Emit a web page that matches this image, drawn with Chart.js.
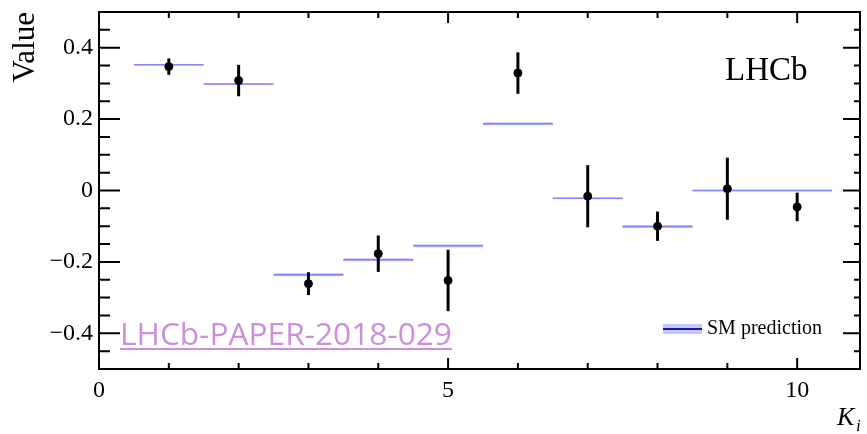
<!DOCTYPE html>
<html>
<head>
<meta charset="utf-8">
<script src="https://cdn.jsdelivr.net/npm/chart.js@4.4.1/dist/chart.umd.min.js"></script>
<style>
  html, body { margin: 0; padding: 0; background: #fff; }
  #wrap { position: relative; width: 867px; height: 434px; }
  #paper {
    position: absolute; left: 120px; top: 317px;
    font-family: "Open Sans", sans-serif; font-size: 31.7px; line-height: 32px;
    color: #cc8fdc; text-decoration: underline; text-decoration-thickness: 2px;
    text-underline-offset: 3px; white-space: nowrap;
  }
</style>
</head>
<body>
<div id="wrap">
  <canvas id="c" width="867" height="434"></canvas>
  <a id="paper">LHCb-PAPER-2018-029</a>
</div>
<script>
// Bin index K_i
const bins = [1, 2, 3, 4, 5, 6, 7, 8, 9, 10];
// Measured values with symmetric uncertainties
const measured    = [0.347, 0.308, -0.261, -0.177, -0.252, 0.329, -0.016, -0.100, 0.005, -0.046];
const measuredErr = [0.023, 0.044, 0.032, 0.051, 0.086, 0.058, 0.087, 0.041, 0.087, 0.040];
// Standard Model prediction per bin and its half-width
const smPrediction = [0.352, 0.298, -0.236, -0.194, -0.155, 0.187, -0.022, -0.101, 0.000, 0.000];
const smErr        = [0.002, 0.002, 0.004, 0.004, 0.004, 0.004, 0.002, 0.004, 0.002, 0.002];
// Axis ranges and labelled ticks
const xRange = [0, 10.9];
const yRange = [-0.5, 0.5];
const xLabelled = [0, 5, 10];
const yLabelled = [-0.4, -0.2, 0, 0.2, 0.4];

const SERIF = '"Liberation Serif", "DejaVu Serif", serif';
const SM_BAND = 'rgba(150,150,255,0.55)';
const SM_LINE = 'rgba(110,110,255,0.75)';

// SM prediction drawn as horizontal segments spanning each bin (null breaks between bins)
const smSegments = [];
bins.forEach((k, i) => {
  smSegments.push({ x: k - 0.5, y: smPrediction[i] });
  smSegments.push({ x: k + 0.5, y: smPrediction[i] });
  smSegments.push({ x: k + 0.5, y: null });
});

const near = (a, b) => Math.abs(a - b) < 1e-6;

// Frame, inward ticks, SM bands, error bars and text annotations
const decorations = {
  id: 'decorations',
  beforeDatasetsDraw(chart) {
    const { ctx, scales: { x, y } } = chart;
    ctx.save();
    ctx.fillStyle = SM_BAND;
    bins.forEach((k, i) => {
      const x0 = x.getPixelForValue(k - 0.5), x1 = x.getPixelForValue(k + 0.5);
      const y0 = y.getPixelForValue(smPrediction[i] + smErr[i]);
      const y1 = y.getPixelForValue(smPrediction[i] - smErr[i]);
      ctx.fillRect(x0, y0, x1 - x0, Math.max(1.5, y1 - y0));
    });
    ctx.restore();
  },
  afterDatasetsDraw(chart) {
    const { ctx, chartArea: a, scales: { x, y } } = chart;
    ctx.save();
    // error bars
    ctx.strokeStyle = '#000';
    ctx.lineWidth = 3;
    bins.forEach((k, i) => {
      const px = x.getPixelForValue(k);
      ctx.beginPath();
      ctx.moveTo(px, y.getPixelForValue(measured[i] + measuredErr[i]));
      ctx.lineTo(px, y.getPixelForValue(measured[i] - measuredErr[i]));
      ctx.stroke();
    });
    // frame
    ctx.lineWidth = 2;
    ctx.strokeRect(a.left, a.top, a.right - a.left, a.bottom - a.top);
    // x ticks (bottom and top)
    for (let v = xRange[0]; v <= xRange[1] + 1e-9; v += 1) {
      const px = x.getPixelForValue(v);
      const major = xLabelled.some(t => near(t, v));
      const len = major ? 11 : 6;
      ctx.beginPath();
      ctx.moveTo(px, a.bottom); ctx.lineTo(px, a.bottom - len);
      ctx.moveTo(px, a.top); ctx.lineTo(px, a.top + len);
      ctx.stroke();
    }
    // y ticks (left and right)
    for (let i = 0; ; i++) {
      const v = yRange[0] + i * 0.05;
      if (v > yRange[1] + 1e-9) break;
      const py = y.getPixelForValue(v);
      const major = yLabelled.some(t => near(t, v));
      ctx.beginPath();
      ctx.moveTo(a.left, py); ctx.lineTo(a.left + (major ? 21 : 11), py);
      ctx.moveTo(a.right, py); ctx.lineTo(a.right - (major ? 17 : 6), py);
      ctx.stroke();
    }
    // axis titles
    ctx.fillStyle = '#000';
    ctx.save();
    ctx.translate(34, a.top);
    ctx.rotate(-Math.PI / 2);
    ctx.font = '31px ' + SERIF;
    ctx.textAlign = 'right';
    ctx.textBaseline = 'alphabetic';
    ctx.fillText('Value', 0, 0);
    ctx.restore();
    ctx.textAlign = 'left';
    ctx.textBaseline = 'alphabetic';
    ctx.font = 'italic 26px ' + SERIF;
    ctx.fillText('K', 837, 425);
    ctx.font = 'italic 17px ' + SERIF;
    ctx.fillText('i', 856, 431);
    // experiment label
    ctx.font = '33px ' + SERIF;
    ctx.fillText('LHCb', 725, 80);
    // legend
    const lx0 = 663, lx1 = 702, ly = 329;
    ctx.fillStyle = SM_BAND;
    ctx.fillRect(lx0, ly - 5, lx1 - lx0, 10);
    ctx.strokeStyle = '#1a1a9a';
    ctx.lineWidth = 2;
    ctx.beginPath(); ctx.moveTo(lx0, ly); ctx.lineTo(lx1, ly); ctx.stroke();
    ctx.fillStyle = '#000';
    ctx.font = '20px ' + SERIF;
    ctx.textBaseline = 'middle';
    ctx.fillText('SM prediction', 707, ly);
    ctx.restore();
  }
};

new Chart(document.getElementById('c'), {
  type: 'scatter',
  data: {
    datasets: [
      {
        label: 'SM prediction',
        type: 'line',
        data: smSegments,
        borderColor: SM_LINE,
        borderWidth: 1.5,
        pointRadius: 0,
        spanGaps: false,
        order: 2
      },
      {
        label: 'Data',
        data: bins.map((k, i) => ({ x: k, y: measured[i] })),
        backgroundColor: '#000',
        borderColor: '#000',
        pointRadius: 4,
        order: 1
      }
    ]
  },
  options: {
    responsive: false,
    devicePixelRatio: 1,
    animation: false,
    layout: { padding: { left: 0, right: 7, top: 12, bottom: 0 } },
    plugins: { legend: { display: false }, tooltip: { enabled: false } },
    scales: {
      x: {
        type: 'linear', min: xRange[0], max: xRange[1],
        grid: { display: false, drawTicks: false },
        border: { display: false },
        afterFit(s) { s.height = 65; s.paddingLeft = 0; s.paddingRight = 0; },
        ticks: {
          stepSize: 1, padding: 7, color: '#000', maxRotation: 0, autoSkip: false,
          includeBounds: false,
          font: { family: SERIF, size: 24 },
          callback: v => (xLabelled.some(t => near(t, v)) ? String(v) : '')
        }
      },
      y: {
        type: 'linear', min: yRange[0], max: yRange[1],
        grid: { display: false, drawTicks: false },
        border: { display: false },
        afterFit(s) { s.width = 99; s.paddingTop = 0; s.paddingBottom = 0; },
        ticks: {
          stepSize: 0.05, padding: 6, color: '#000', autoSkip: false,
          includeBounds: false,
          font: { family: SERIF, size: 24 },
          callback: v => {
            const t = yLabelled.find(t => near(t, v));
            if (t === undefined) return '';
            if (near(t, 0)) return '0';
            return (t < 0 ? '\u2212' : '') + Math.abs(t).toFixed(1);
          }
        }
      }
    }
  },
  plugins: [decorations]
});
</script>
</body>
</html>
